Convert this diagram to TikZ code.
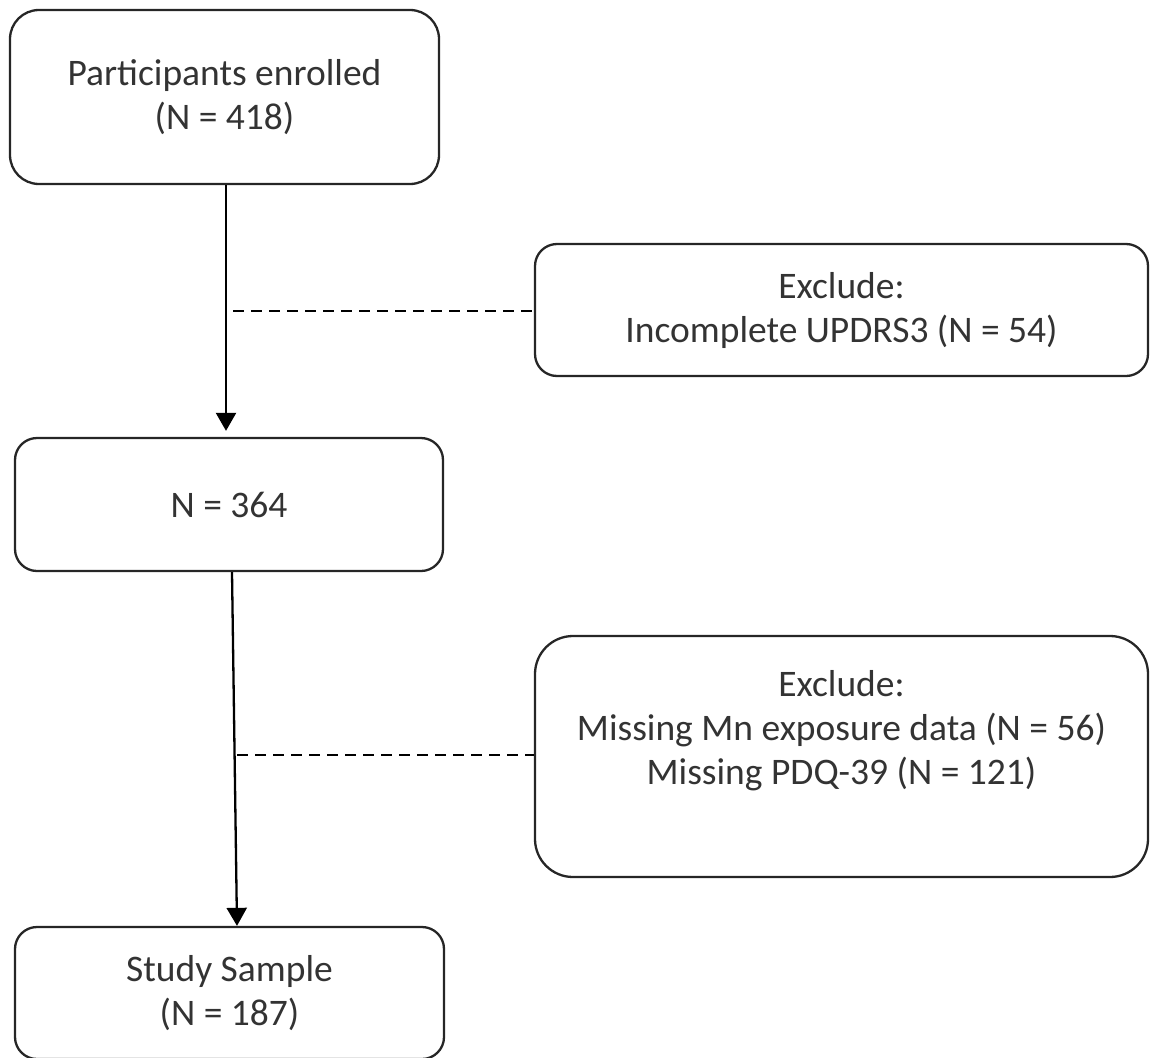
\documentclass[tikz,border=0pt]{standalone}
\usepackage{fontspec}
\setmainfont{Carlito}
\usetikzlibrary{arrows.meta}
\begin{document}
\begin{tikzpicture}[x=1pt,y=-1pt,
  box/.style={draw=black!85, line width=2.3pt, align=center, inner sep=0pt,
    text=black!80, font=\fontsize{37.5}{44}\selectfont},
  arr/.style={draw=black, line width=2.3pt, -{Triangle[width=20pt,length=18pt]}},
  dashline/.style={draw=black, line width=2.2pt, dash pattern=on 11pt off 7pt}]
\useasboundingbox (0,0) rectangle (1150,1057);
\node[box, rounded corners=29pt, minimum width=429pt, minimum height=174pt] (b1) at (224.5,97)
  {Participants enrolled\\(N = 418)};
\node[box, rounded corners=22pt, minimum width=613pt, minimum height=132pt] (b2) at (841.5,310)
  {Exclude:\\Incomplete UPDRS3 (N = 54)};
\node[box, rounded corners=22pt, minimum width=428pt, minimum height=133pt] (b3) at (229,504.5)
  {N = 364};
\node[box, rounded corners=38pt, minimum width=613pt, minimum height=241pt] (b4) at (841.5,756.5)
  {Exclude:\\Missing Mn exposure data (N = 56)\\Missing PDQ-39 (N = 121)\\\strut};
\node[box, rounded corners=22pt, minimum width=429pt, minimum height=132pt] (b5) at (229.5,993)
  {Study Sample\\(N = 187)};
% connectors
\coordinate (a1s) at (b1.south -| 226,0);
\coordinate (a1e) at ([yshift=6pt]b3.north -| 226,0);
\draw[arr] (a1s) -- (a1e);
\coordinate (j1) at (233,311);
\draw[dashline] (j1) -- (j1 -| b2.west);
\coordinate (a2s) at (b3.south -| 232,0);
\coordinate (a2e) at (b5.north -| 237,0);
\draw[arr] (a2s) -- (a2e);
\coordinate (j2) at (237,755);
\draw[dashline] (j2) -- (j2 -| b4.west);
\end{tikzpicture}
\end{document}
